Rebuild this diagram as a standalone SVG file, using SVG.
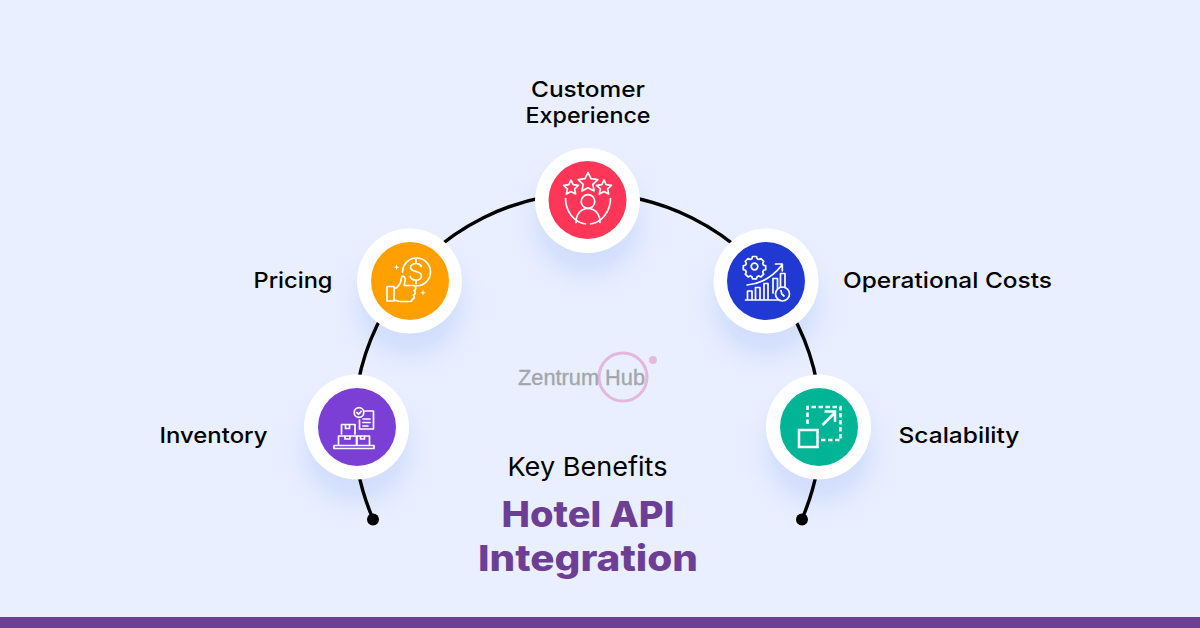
<svg xmlns="http://www.w3.org/2000/svg" width="1200" height="628" viewBox="0 0 1200 628">
<style>
.lbl{font-family:Inter,"Liberation Sans",sans-serif;font-size:22px;font-weight:500;fill:#000}
.ttl{font-family:Inter,"Liberation Sans",sans-serif;font-size:36px;font-weight:800;fill:#6c3f95}
.ring{fill:#fff}
.ic{fill:none;stroke:#fff;stroke-width:1.7;stroke-linejoin:round;stroke-linecap:round}
.icf{fill:#fff}
.arc{fill:none;stroke:#000;stroke-width:3.4}
.logo{font-family:"Liberation Sans",sans-serif;font-size:22px;fill:#a3a5ab;stroke:#a3a5ab;stroke-width:.35}
</style>
<defs>
<radialGradient id="glow"><stop offset="0" stop-color="#bfd0fa" stop-opacity=".9"/><stop offset=".55" stop-color="#c9d8fb" stop-opacity=".6"/><stop offset="1" stop-color="#e9efff" stop-opacity="0"/></radialGradient>
</defs>
<rect width="1200" height="628" fill="#e9efff"/>
<rect y="617" width="1200" height="11" fill="#6c3f95"/>
<g id="glows">
<circle cx="587.500" cy="222" r="82" fill="url(#glow)"/>
<circle cx="410" cy="303" r="82" fill="url(#glow)"/>
<circle cx="766" cy="303" r="82" fill="url(#glow)"/>
<circle cx="357" cy="449" r="82" fill="url(#glow)"/>
<circle cx="819" cy="449" r="82" fill="url(#glow)"/>
</g>
<g id="connectors">
<path class="arc" d="M373 519 A233.500 233.500 0 1 1 802 519"/>
<circle cx="373" cy="519.500" r="6" fill="#000"/>
<circle cx="802" cy="519.500" r="6" fill="#000"/>
</g>
<g id="node-customer-experience">
<circle class="ring" cx="587.500" cy="200.500" r="52.500"/>
<circle cx="587.500" cy="200" r="39" fill="#ff3657"/>
<g class="ic">
<path d="M588 172.500l3 6.200 6.800.9-5 4.700 1.300 6.700-6.100-3.300-6.100 3.300 1.300-6.700-5-4.700 6.800-.9z"/>
<path d="M571 180l2.200 4.700 5.200.7-3.800 3.500 1 5.100-4.600-2.500-4.600 2.500 1-5.100-3.800-3.500 5.200-.7z"/>
<path d="M604 180l2.200 4.700 5.200.7-3.800 3.500 1 5.100-4.600-2.500-4.600 2.500 1-5.100-3.800-3.500 5.200-.7z"/>
<circle cx="588" cy="201.500" r="6.800"/>
<path d="M576 222.500c0-8.500 5-14 12-14s12 5.500 12 14"/>
<path d="M565.500 198.500a23 26 0 0 0 20 25.500M610.500 198.500a23 26 0 0 1-20 25.500"/>
</g>
</g>
<g id="node-pricing">
<circle class="ring" cx="409.500" cy="281" r="52.500"/>
<circle cx="410" cy="281" r="39" fill="#ff9f00"/>
<g class="ic">
<path d="M402.500 272a14 14 0 1 1 13.500 14"/>
<path d="M421.500 266.500c-1-2-3-3-5.500-3s-5.500 1.500-5.500 4c0 5.500 11 2.500 11 8.400 0 2.700-2.800 4.200-5.500 4.200s-5-1.300-5.800-3.500M416 259.500v3.500M416 280.300v3.500"/>
<path d="M387 286.500h7v14.500h-7zM394 288.500c3 0 5.500-4 6.500-6l1.500-6.500c2.500 0 3.500 2 3.200 4l-1 5.500h9c1.500 0 2.500 1 2.500 2.500s-1 2.500-2 2.500c1 .3 1.500 1.300 1.500 2.300s-.8 2-2 2.200c.7 .5 1 1.200 1 2s-.8 2-2 2c.3 1.500-1 2.500-2 2.500h-10.500l-5.700-1.500"/>
</g>
<path class="icf" d="M396.500 264.500l.8 2 2 .8-2 .8-.8 2-.8-2-2-.8 2-.8zM423 290l.8 2 2 .8-2 .8-.8 2-.8-2-2-.8 2-.8z"/>
</g>
<g id="node-operational-costs">
<circle class="ring" cx="766" cy="281" r="52.500"/>
<circle cx="766" cy="281" r="39" fill="#2039d2"/>
<g class="ic">
<circle cx="754.500" cy="266.500" r="3.300"/>
<path d="M752.500 256.500h4l.6 2.200 1.800.8 2-1 2.800 2.800-1 2 .8 1.800 2.200.6v4l-2.200.6-.8 1.800 1 2-2.800 2.800-2-1-1.800.8-.6 2.200h-4l-.6-2.200-1.800-.8-2 1-2.800-2.800 1-2-.8-1.800-2.200-.6v-4l2.200-.6.8-1.800-1-2 2.800-2.800 2 1 1.800-.8z"/>
<path d="M747 285c12-1 24-6 35-20M775.500 264h6.800v6.800"/>
<path d="M745.500 300h33M747.500 300v-9h4.500v9M755.500 300v-12.500h4.500v12.500M764 300v-16.500h4v16.500M773 293v-14.500h4.500v10M780.500 287v-13.500h4.500v14"/>
<circle cx="782.500" cy="294" r="7"/>
<path d="M781 290.500l.8 3.500 2.200 2"/>
</g>
</g>
<g id="node-inventory">
<circle class="ring" cx="356.500" cy="427" r="52.500"/>
<circle cx="357" cy="427" r="39" fill="#7b3fd6"/>
<g class="ic">
<path d="M334 445.500h40v3h-40zM338.500 445.500v-9.500h18v9.500M357 445.500v-9.500h12.500v9.500M341.500 434v-9.500h13.500v9.500M345.500 424.500v4h4v-4M345 436v3h5v-3M360.500 436v3h4v-3"/>
<path d="M365 411h8.500v18h-14v-9"/>
<path d="M363 419h7M363 422.500h7M363 426h5"/>
<circle cx="359" cy="412.500" r="4.800"/>
<path d="M356.800 412.500l1.700 1.700 2.800-2.900"/>
</g>
</g>
<g id="node-scalability">
<circle class="ring" cx="818.500" cy="427" r="52.500"/>
<circle cx="819" cy="427" r="39" fill="#00b596"/>
<g fill="none" stroke="#fff" stroke-width="2.500">
<rect x="799" y="430" width="18.500" height="17"/>
<path d="M807.500 424v-17h33v33h-20" stroke-dasharray="4.500 2.500"/>
<path d="M822.500 425l12-12M824.500 411.500h10.500v10.500"/>
</g>
</g>
<g id="labels">
<text class="lbl" x="588" y="97" text-anchor="middle" textLength="114" lengthAdjust="spacingAndGlyphs">Customer</text>
<text class="lbl" x="588" y="123" text-anchor="middle" textLength="125" lengthAdjust="spacingAndGlyphs">Experience</text>
<text class="lbl" x="293" y="288" text-anchor="middle" textLength="79" lengthAdjust="spacingAndGlyphs">Pricing</text>
<text class="lbl" x="947.500" y="288" text-anchor="middle" textLength="209" lengthAdjust="spacingAndGlyphs">Operational Costs</text>
<text class="lbl" x="213.500" y="443" text-anchor="middle" textLength="108" lengthAdjust="spacingAndGlyphs">Inventory</text>
<text class="lbl" x="959" y="443" text-anchor="middle" textLength="121" lengthAdjust="spacingAndGlyphs">Scalability</text>
<text x="587.500" y="476" text-anchor="middle" font-family="Inter,'Liberation Sans',sans-serif" font-size="26" font-weight="400" fill="#000" textLength="160" lengthAdjust="spacingAndGlyphs">Key Benefits</text>
<text class="ttl" x="588" y="527" text-anchor="middle" textLength="173" lengthAdjust="spacingAndGlyphs">Hotel API</text>
<text class="ttl" x="588" y="571" text-anchor="middle" textLength="220" lengthAdjust="spacingAndGlyphs">Integration</text>
</g>
<g id="logo">
<circle cx="623" cy="377" r="24" fill="none" stroke="#e2b8de" stroke-width="3"/>
<circle cx="653" cy="360" r="4" fill="#e2b8de"/>
<text class="logo" x="518" y="385" textLength="127" lengthAdjust="spacingAndGlyphs">Zentrum Hub</text>
</g>
</svg>
